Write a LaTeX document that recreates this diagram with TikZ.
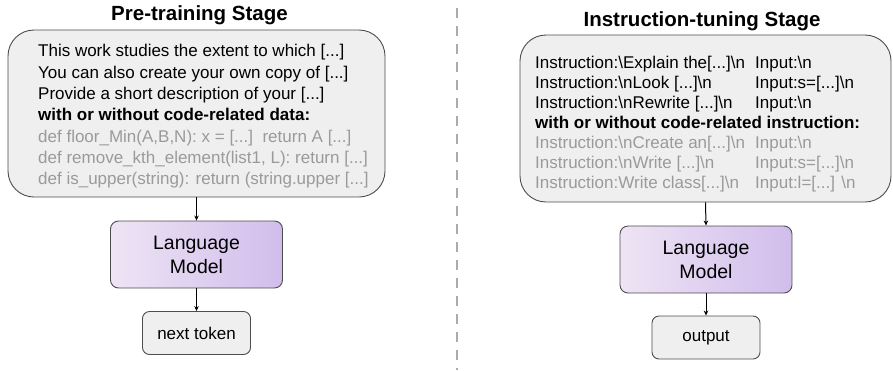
\documentclass[tikz,border=0pt]{standalone}
\usepackage{fontspec}
\setmainfont{Liberation Sans}
\usetikzlibrary{arrows.meta}
\definecolor{boxgray}{HTML}{EFEFEF}
\definecolor{edgegray}{HTML}{4D4D4D}
\definecolor{codegray}{HTML}{9A9A9A}
\definecolor{lmleft}{HTML}{EEE4F4}
\definecolor{lmright}{HTML}{D1BDEC}
\definecolor{sepgray}{HTML}{ABABAB}
\newcommand{\bkslash}{\textbackslash}
\newcommand{\instcol}[1]{\makebox[220pt][l]{#1}}

\begin{document}
\begin{tikzpicture}[x=1pt,y=-1pt,
  stagetitle/.style={anchor=base,font=\fontsize{20.5}{24}\selectfont\bfseries},
  databox/.style={draw=edgegray,line width=0.9pt,fill=boxgray,rounded corners=26pt,
    minimum width=#1,minimum height=167pt,inner sep=0pt},
  datatext/.style={anchor=north west,align=left,inner sep=0pt,font=\fontsize{17}{#1}\selectfont},
  lmbox/.style={draw=edgegray,line width=0.9pt,left color=lmleft,right color=lmright,
    rounded corners=8pt,minimum width=172pt,minimum height=67pt,align=center,
    font=\fontsize{19.5}{24}\selectfont},
  outbox/.style={draw=edgegray,line width=0.9pt,fill=boxgray,rounded corners=7pt,
    minimum width=108pt,minimum height=43pt,font=\fontsize{17}{20}\selectfont},
  arr/.style={draw,line width=1pt,-{Stealth[length=5pt,width=4.5pt]}}]
\useasboundingbox (0,0) rectangle (893,370);

\node[stagetitle] (ptitle) at (199.5,20.7) {Pre-training Stage};
\node[databox=377pt] (pbox) at (196.5,113.5) {};
\node[datatext=21.3pt] (ptext) at (38,44.3) {This work studies the extent to which [...]\\
You can also create your own copy of [...]\\
Provide a short description of your [...]\\
\textbf{with or without code-related data:}\\
\textcolor{codegray}{def floor\_Min(A,B,N): x = [...]\ \ return A [...]}\\
\textcolor{codegray}{def remove\_kth\_element(list1, L): return [...]}\\
\textcolor{codegray}{def is\_upper(string): return (string.upper [...]}};
\node[lmbox] (plm) at (196.5,254.5) {Language\\Model};
\node[outbox] (pout) at (196.5,333) {next token};
\path[arr] (pbox.south) -- (plm.north);
\path[arr] (plm.south) -- (pout.north);

\path[draw=sepgray,line width=2pt,dash pattern=on 10pt off 8pt] (457,8) -- (457,370);

\node[stagetitle] (ititle) at (702,26.5) {Instruction-tuning Stage};
\node[databox=371pt] (ibox) at (705.5,118.5) {};
\node[datatext=20pt] (itext) at (535,55.9) {\instcol{Instruction:\bkslash Explain the[...]\bkslash n}Input:\bkslash n\\
\instcol{Instruction:\bkslash nLook [...]\bkslash n}Input:s=[...]\bkslash n\\
\instcol{Instruction:\bkslash nRewrite [...]\bkslash n}Input:\bkslash n\\
\textbf{with or without code-related instruction:}\\
\textcolor{codegray}{\instcol{Instruction:\bkslash nCreate an[...]\bkslash n}Input:\bkslash n}\\
\textcolor{codegray}{\instcol{Instruction:\bkslash nWrite [...]\bkslash n}Input:s=[...]\bkslash n}\\
\textcolor{codegray}{\instcol{Instruction:Write class[...]\bkslash n}Input:l=[...] \bkslash n}};
\node[lmbox] (ilm) at (706,259.5) {Language\\Model};
\node[outbox] (iout) at (706,337.5) {output};
\path[arr] (ibox.south) -- (ilm.north);
\path[arr] (ilm.south) -- (iout.north);
\end{tikzpicture}
\end{document}
